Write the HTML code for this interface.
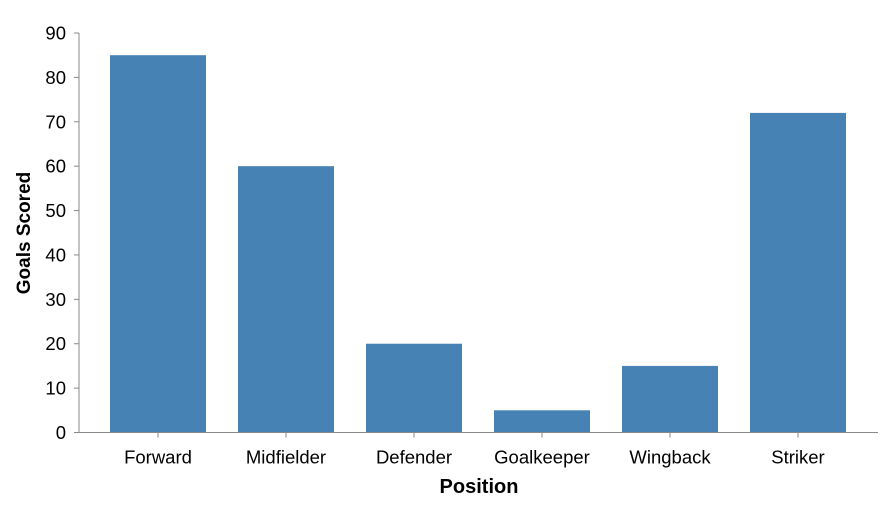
<!DOCTYPE html>
<html><head><meta charset="utf-8"><style>
body{margin:0;background:#fff}
text{font-family:"Liberation Sans",Arial,sans-serif}
</style></head><body>
<svg width="888" height="506">
<g id="bars"></g>
<g id="yaxis"></g>
<g id="xaxis"></g>
<text x="30" y="233" transform="rotate(-90 30 233)" text-anchor="middle" font-size="19" font-weight="bold">Goals Scored</text>
<text x="479" y="493" text-anchor="middle" font-size="20" font-weight="bold">Position</text>
</svg>
<script>
const categories=["Forward","Midfielder","Defender","Goalkeeper","Wingback","Striker"];
const goals=[85,60,20,5,15,72];
const yTicks=[0,10,20,30,40,50,60,70,80,90];
const NS="http://www.w3.org/2000/svg";
const y0=432.5,yTop=33,yMax=90,x0=79,xEnd=878,step=128,off=31,bw=96;
const ys=v=>y0-(y0-yTop)*v/yMax;
const xs=i=>x0+off+i*step;
function mk(t,a,p){const e=document.createElementNS(NS,t);for(const k in a)e.setAttribute(k,a[k]);p.appendChild(e);return e;}
const B=document.getElementById('bars'),Y=document.getElementById('yaxis'),X=document.getElementById('xaxis');
goals.forEach((v,i)=>{
const r=mk('rect',{x:xs(i),y:ys(v),width:bw,height:y0-ys(v),fill:'#4682b4'},B);


});
mk('line',{x1:x0,x2:x0,y1:yTop,y2:y0,stroke:'#888'},Y);
yTicks.forEach(t=>{
mk('line',{x1:x0-5,x2:x0,y1:ys(t),y2:ys(t),stroke:'#888'},Y);
const e=mk('text',{x:x0-13,y:ys(t)+6.5,'text-anchor':'end','font-size':'18.5'},Y);e.textContent=t;


});
mk('line',{x1:x0,x2:xEnd,y1:y0,y2:y0,stroke:'#888'},X);
categories.forEach((c,i)=>{
const cx=xs(i)+bw/2;
mk('line',{x1:cx,x2:cx,y1:y0,y2:y0+5,stroke:'#888'},X);
const e=mk('text',{x:cx,y:y0+31,'text-anchor':'middle','font-size':'18.5'},X);e.textContent=c;


});
</script>
</body></html>
